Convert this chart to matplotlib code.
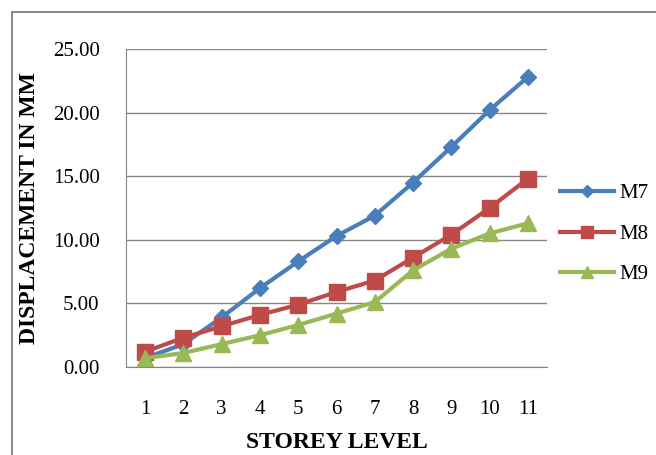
import matplotlib.pyplot as plt
from matplotlib.patches import Rectangle

storeys = list(range(1, 12))
m7 = [0.7, 1.8, 3.9, 6.2, 8.3, 10.3, 11.9, 14.5, 17.3, 20.2, 22.8]
m8 = [1.2, 2.3, 3.2, 4.1, 4.9, 5.9, 6.8, 8.6, 10.4, 12.5, 14.8]
m9 = [0.7, 1.1, 1.8, 2.5, 3.3, 4.2, 5.1, 7.6, 9.3, 10.5, 11.3]
yticks = [0, 5, 10, 15, 20, 25]

plt.rcParams['font.family'] = ['Liberation Serif', 'DejaVu Serif']

fig = plt.figure(figsize=(6.56, 4.55), dpi=100)
# chart border (cut at the right and bottom like the source)
fig.patches.append(Rectangle((12 / 656, -0.1), 1.2, (455 - 12) / 455 + 0.1,
                             transform=fig.transFigure, fill=False,
                             edgecolor='#8c8c8c', linewidth=1.5))

ax = fig.add_axes([126 / 656, 88 / 455, 421 / 656, 318 / 455])
ax.plot(storeys, m7, color='#4A7EBB', marker='D', markersize=8, linewidth=3, label='M7')
ax.plot(storeys, m8, color='#BE4B48', marker='s', markersize=11, linewidth=3, label='M8')
ax.plot(storeys, m9, color='#98B954', marker='^', markersize=11, linewidth=3, label='M9')

ax.set_xlim(0.5, 11.5)
ax.set_ylim(0, 25)
ax.set_yticks(yticks)
ax.set_yticklabels([f'{v:.2f}' for v in yticks])
ax.set_xticks(storeys)
ax.tick_params(length=0, labelsize=15)
ax.tick_params(axis='y', pad=19)
ax.tick_params(axis='x', pad=24)
ax.grid(axis='y', color='#868686', linewidth=1)
ax.set_axisbelow(True)
for side in ['top', 'right']:
    ax.spines[side].set_visible(False)
ax.spines['left'].set_color('#868686')
ax.spines['bottom'].set_color('#868686')

ax.set_xlabel('STOREY LEVEL', fontsize=17, fontweight='bold')
ax.set_ylabel('DISPLACEMENT IN MM', fontsize=17, fontweight='bold')
ax.xaxis.set_label_coords(0.5, -0.205)
ax.yaxis.set_label_coords(-0.205, 0.5)

ax.legend(loc='center left', bbox_to_anchor=(560 / 656, 1 - 234 / 455),
          bbox_transform=fig.transFigure, frameon=False, borderpad=0,
          borderaxespad=0, fontsize=15, handlelength=2.6, labelspacing=1.0,
          handletextpad=0.25, markerscale=0.75)

fig.savefig('out.png', dpi=100)
